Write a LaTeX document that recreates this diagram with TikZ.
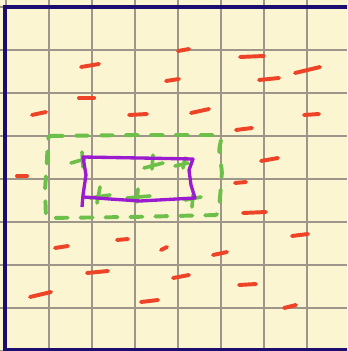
\documentclass[tikz,border=0pt]{standalone}
\usepackage{tikz}

\definecolor{paper}{HTML}{FCF5D2}
\definecolor{gridgray}{HTML}{9E968A}
\definecolor{frameblue}{HTML}{1B0E70}
\definecolor{marker}{HTML}{EE4326}
\definecolor{leaf}{HTML}{6CC04A}
\definecolor{penpurple}{HTML}{9B1BD0}

\begin{document}
\begin{tikzpicture}[x=0.023256cm, y=-0.023256cm,
			gridline/.style={draw=gridgray, line width=0.9pt},
			frameline/.style={draw=frameblue, line width=2pt},
			redmark/.style={draw=marker, line width=2.6pt, line cap=round},
			greenbox/.style={draw=leaf, line width=2.6pt, line cap=round,
				dash pattern=on 8pt off 8.5pt, rounded corners=2pt},
			purplebox/.style={draw=penpurple, line width=2.2pt, line join=round},
			plusmark/.style={draw=leaf, line width=2.4pt, line cap=round}]
			
			\useasboundingbox (0,0) rectangle (347,351);
			\clip (0,0) rectangle (347,351);
			\fill[paper] (0,0) rectangle (347,351);
			
			% grid
			\foreach \gx in {6,49,...,350}
				\draw[gridline] (\gx,0) -- (\gx,351);
			\foreach \gy in {7,50,...,351}
				\draw[gridline] (0,\gy) -- (347,\gy);
			
			% frame
			\draw[frameline] (5,7) rectangle (360,349.5);
			
			% red marks
			\foreach \ax/\ay/\bx/\by in {
				81/67/99/64, 79/98/94/98, 32/115/46/112, 129/115/147/114,
				166/81/179/79, 178/51/189/49, 240/57/264/56, 295/73/320/67,
				259/80/279/78, 191/113/209/109, 304/115/319/114, 236/130/252/128,
				261/161/278/158, 17/176/27/176, 55/248/68/246, 117/240/128/239,
				161/250/167/247, 87/273/108/271, 30/297/51/292, 141/302/158/300,
				235/183/246/182, 243/213/266/212, 292/236/308/234, 213/255/227/252,
				173/278/189/275, 239/285/256/284, 284/308/296/305}
				\draw[redmark] (\ax,\ay) -- (\bx,\by);
			
			% green dashed box
			\draw[greenbox] (48,136) -- (135,135) -- (222,135) -- (219,150)
				-- (222,172) -- (220,198) -- (218,215) -- (130,217) -- (46,218)
				-- (45,190) -- (47,160) -- cycle;
			
			% green pluses
			\foreach \vx/\vy/\wx/\wy/\hx/\hy/\kx/\ky in {
				82/152/83/167/71/163/85/159,
				100/187/97/203/90/198/110/195,
				153/155/152/169/144/168/163/163,
				185/158/183/168/175/166/188/163,
				138/189/137/202/127/198/150/196,
				193/195/192/207/185/200/201/197}
			{
				\draw[plusmark] (\vx,\vy) -- (\wx,\wy);
				\draw[plusmark] (\hx,\hy) -- (\kx,\ky);
			}
			
			% purple box
			\draw[purplebox] (82,207) -- (83,195) -- (86,175) -- (83,157)
				-- (140,158) -- (193,159) -- (189,170) -- (191,185) -- (195,198)
				-- (140,201) -- (110,199) -- (84,197);
			
		\end{tikzpicture}
\end{document}
